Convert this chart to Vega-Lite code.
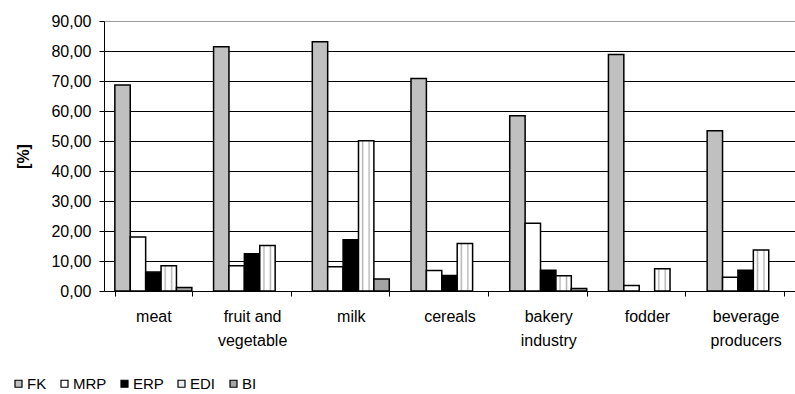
{
  "$schema": "https://vega.github.io/schema/vega-lite/v6.json",
  "width": 691,
  "height": 270,
  "autosize": {"type": "none"},
  "padding": {"left": 104, "top": 21, "right": 0, "bottom": 103},
  "background": "white",
  "config": {
    "font": "Liberation Sans",
    "view": {"stroke": null}
  },
  "data": {
    "values": [
      {"sector": "meat", "system": "FK", "value": 68.7},
      {"sector": "meat", "system": "MRP", "value": 18.0},
      {"sector": "meat", "system": "ERP", "value": 6.3},
      {"sector": "meat", "system": "EDI", "value": 8.4},
      {"sector": "meat", "system": "BI", "value": 1.2},
      {"sector": "fruit and vegetable", "system": "FK", "value": 81.4},
      {"sector": "fruit and vegetable", "system": "MRP", "value": 8.4},
      {"sector": "fruit and vegetable", "system": "ERP", "value": 12.4},
      {"sector": "fruit and vegetable", "system": "EDI", "value": 15.2},
      {"sector": "fruit and vegetable", "system": "BI", "value": 0},
      {"sector": "milk", "system": "FK", "value": 83.1},
      {"sector": "milk", "system": "MRP", "value": 8.1},
      {"sector": "milk", "system": "ERP", "value": 17.1},
      {"sector": "milk", "system": "EDI", "value": 50.1},
      {"sector": "milk", "system": "BI", "value": 4.0},
      {"sector": "cereals", "system": "FK", "value": 70.8},
      {"sector": "cereals", "system": "MRP", "value": 6.8},
      {"sector": "cereals", "system": "ERP", "value": 5.2},
      {"sector": "cereals", "system": "EDI", "value": 15.8},
      {"sector": "cereals", "system": "BI", "value": 0},
      {"sector": "bakery industry", "system": "FK", "value": 58.4},
      {"sector": "bakery industry", "system": "MRP", "value": 22.6},
      {"sector": "bakery industry", "system": "ERP", "value": 6.9},
      {"sector": "bakery industry", "system": "EDI", "value": 5.1},
      {"sector": "bakery industry", "system": "BI", "value": 0.8},
      {"sector": "fodder", "system": "FK", "value": 78.8},
      {"sector": "fodder", "system": "MRP", "value": 1.8},
      {"sector": "fodder", "system": "ERP", "value": 0},
      {"sector": "fodder", "system": "EDI", "value": 7.4},
      {"sector": "fodder", "system": "BI", "value": 0},
      {"sector": "beverage producers", "system": "FK", "value": 53.4},
      {"sector": "beverage producers", "system": "MRP", "value": 4.6},
      {"sector": "beverage producers", "system": "ERP", "value": 6.9},
      {"sector": "beverage producers", "system": "EDI", "value": 13.7},
      {"sector": "beverage producers", "system": "BI", "value": 0}
    ]
  },
  "transform": [{"filter": "datum.value > 0"}],
  "mark": {"type": "bar", "stroke": "black", "strokeWidth": 1.5},
  "encoding": {
    "x": {
      "field": "sector",
      "type": "nominal",
      "sort": ["meat", "fruit and vegetable", "milk", "cereals", "bakery industry", "fodder", "beverage producers"],
      "scale": {"paddingInner": 0.22, "paddingOuter": 0.11},
      "axis": {
        "title": null,
        "labelAngle": 0,
        "tickBand": "extent",
        "domainColor": "black",
        "tickColor": "black",
        "tickSize": 5,
        "labelFontSize": 16,
        "labelColor": "black",
        "labelPadding": 12,
        "labelLineHeight": 24,
        "labelLimit": 0,
        "labelExpr": "datum.label == 'fruit and vegetable' ? ['fruit and', 'vegetable'] : datum.label == 'bakery industry' ? ['bakery', 'industry'] : datum.label == 'beverage producers' ? ['beverage', 'producers'] : datum.label"
      }
    },
    "xOffset": {
      "field": "system",
      "type": "nominal",
      "sort": ["FK", "MRP", "ERP", "EDI", "BI"],
      "scale": {"domain": ["FK", "MRP", "ERP", "EDI", "BI"], "paddingInner": 0, "paddingOuter": 0}
    },
    "y": {
      "field": "value",
      "type": "quantitative",
      "scale": {"domain": [0, 90], "nice": false},
      "axis": {
        "values": [0, 10, 20, 30, 40, 50, 60, 70, 80, 90],
        "grid": true,
        "gridColor": {"condition": {"test": "datum.value === 90", "value": "#9a9a9a"}, "value": "black"},
        "gridWidth": 1,
        "domainColor": "black",
        "tickColor": "black",
        "tickSize": 5,
        "labelFontSize": 16,
        "labelColor": "black",
        "labelPadding": 8,
        "labelExpr": "replace(format(datum.value, '.2f'), '.', ',')",
        "title": "[%]",
        "titleFontSize": 16,
        "titleFontWeight": "bold",
        "titleColor": "black",
        "titlePadding": 19
      }
    },
    "fill": {
      "condition": {
        "test": "datum.system === 'EDI'",
        "value": {
          "gradient": "linear",
          "x1": 0, "y1": 0, "x2": 1, "y2": 0,
          "stops": [
            {"offset": 0, "color": "#ffffff"},
            {"offset": 0.18, "color": "#ffffff"},
            {"offset": 0.27, "color": "#b4b4b4"},
            {"offset": 0.36, "color": "#ffffff"},
            {"offset": 0.6, "color": "#ffffff"},
            {"offset": 0.69, "color": "#b4b4b4"},
            {"offset": 0.78, "color": "#ffffff"},
            {"offset": 1, "color": "#ffffff"}
          ]
        }
      },
      "field": "system",
      "type": "nominal",
      "sort": ["FK", "MRP", "ERP", "EDI", "BI"],
      "scale": {
        "domain": ["FK", "MRP", "ERP", "EDI", "BI"],
        "range": ["#c0c0c0", "#ffffff", "#000000", "#ececec", "#a4a4a4"]
      },
      "legend": {
        "title": null,
        "orient": "none",
        "direction": "horizontal",
        "legendX": -93,
        "legendY": 355,
        "symbolType": "square",
        "symbolSize": 49,
        "symbolStrokeColor": "black",
        "symbolStrokeWidth": 1.2,
        "labelFontSize": 15,
        "labelColor": "black",
        "labelOffset": 1,
        "columnPadding": 10,
        "encode": {
          "symbols": {
            "update": {
              "stroke": {"value": "black"},
              "strokeWidth": {"value": 1.2}
            }
          }
        }
      }
    }
  }
}
